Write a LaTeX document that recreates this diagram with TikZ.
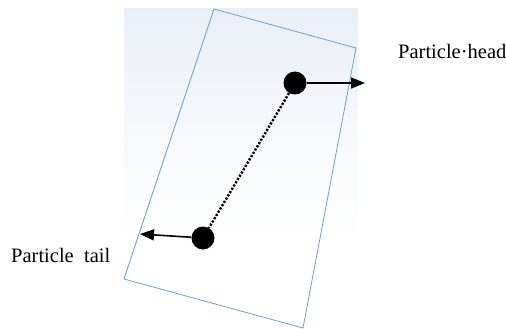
\documentclass[tikz,border=0pt]{standalone}
\usepackage{fontspec}
\setmainfont{Liberation Serif}
\usetikzlibrary{arrows.meta}
\definecolor{bgtop}{RGB}{234,239,247}
\definecolor{framec}{RGB}{110,160,210}
\tikzset{
  particle/.style={circle,fill=black,inner sep=0pt,minimum size=23pt},
  lbl/.style={font=\fontsize{20.5}{24}\selectfont,inner sep=0pt,anchor=base west},
  push/.style={line width=1.6pt,-{Triangle[length=14pt,width=11pt]}},
  link/.style={line width=2.4pt,dash pattern=on 2.2pt off 1.6pt}
}
\begin{document}
\begin{tikzpicture}[x=1pt,y=-1pt]
\useasboundingbox (0,0) rectangle (506,329);
\shade[top color=bgtop,bottom color=white,middle color=bgtop!45!white] (124,9) rectangle (358,240);
\draw[framec,line width=0.8pt] (214,9) -- (356,48) -- (303,328) -- (124,279) -- cycle;
\node[particle] (head) at (295,83) {};
\node[particle] (tail) at (203,238) {};
\coordinate (headtip) at (365,83);
\coordinate (tailtip) at (140,234);
\draw[push] (head) -- (headtip);
\draw[push] (tail) -- (tailtip);
\draw[link] (head) -- (tail);
\node[lbl] (hl) at (398,59) {Particle·head};
\node[lbl] (tl) at (11,262) {Particle\ \ tail};
\end{tikzpicture}
\end{document}
